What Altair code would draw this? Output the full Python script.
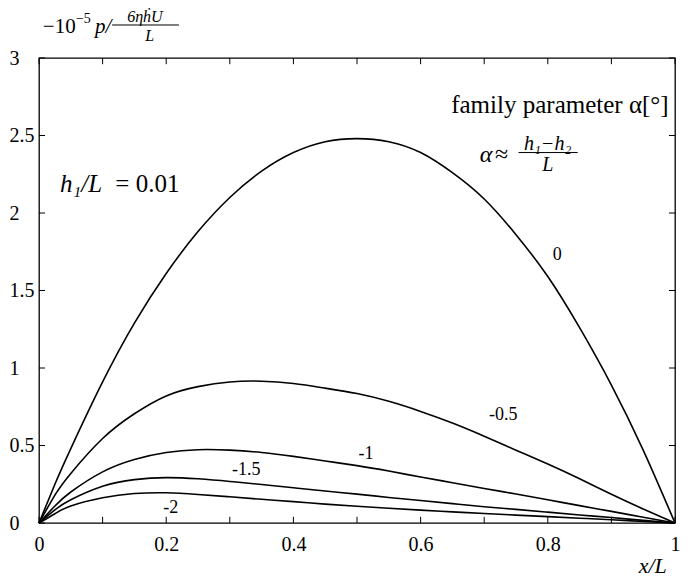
import altair as alt
import pandas as pd

# ---------------- data ----------------
x_grid = [0, 0.025, 0.05, 0.1, 0.15, 0.2, 0.25, 0.3, 0.35, 0.4, 0.45, 0.5,
          0.55, 0.6, 0.65, 0.7, 0.75, 0.8, 0.85, 0.9, 0.95, 1.0]
p_alpha_0 = [0, 0.25, 0.48, 0.91, 1.29, 1.61, 1.88, 2.10, 2.27, 2.39, 2.46, 2.48,
             2.46, 2.39, 2.26, 2.09, 1.86, 1.59, 1.26, 0.89, 0.47, 0]
p_alpha_m05 = [0, 0.18, 0.32, 0.545, 0.705, 0.82, 0.88, 0.91, 0.915, 0.90, 0.87, 0.835,
               0.785, 0.72, 0.645, 0.56, 0.47, 0.38, 0.285, 0.185, 0.09, 0]
p_alpha_m1 = [0, 0.11, 0.20, 0.33, 0.41, 0.455, 0.473, 0.47, 0.455, 0.43, 0.40, 0.37,
              0.335, 0.297, 0.26, 0.223, 0.187, 0.15, 0.112, 0.075, 0.037, 0]
p_alpha_m15 = [0, 0.085, 0.15, 0.237, 0.28, 0.293, 0.285, 0.268, 0.248, 0.227, 0.206, 0.186,
               0.165, 0.145, 0.125, 0.105, 0.088, 0.07, 0.052, 0.035, 0.017, 0]
p_alpha_m2 = [0, 0.06, 0.11, 0.163, 0.19, 0.195, 0.184, 0.169, 0.153, 0.138, 0.122, 0.108,
              0.095, 0.083, 0.072, 0.061, 0.051, 0.041, 0.031, 0.021, 0.01, 0]
alpha_names = ["0", "-0.5", "-1", "-1.5", "-2"]
x_tick_values = [0, 0.1, 0.2, 0.3, 0.4, 0.5, 0.6, 0.7, 0.8, 0.9, 1.0]
y_tick_values = [0, 0.5, 1, 1.5, 2, 2.5, 3]

series = [p_alpha_0, p_alpha_m05, p_alpha_m1, p_alpha_m15, p_alpha_m2]
rows = []
for name, vals in zip(alpha_names, series):
    for xv, pv in zip(x_grid, vals):
        rows.append({"x": xv, "p": pv, "alpha": name})
curves = pd.DataFrame(rows)

# ---------------- layout / styling ----------------
FONT = "Liberation Serif, DejaVu Serif, serif"
X_MIN, X_MAX, Y_MIN, Y_MAX = 0, 1, 0, 3
TICK_X_LEN = 0.0095   # inward tick length in x data units
TICK_Y_LEN = 0.04     # inward tick length in y data units

xs = alt.Scale(domain=[X_MIN, X_MAX], nice=False, zero=False)
ys = alt.Scale(domain=[Y_MIN, Y_MAX], nice=False, zero=False)

x_bottom = alt.Axis(orient="bottom", values=x_tick_values, ticks=False, domain=False, grid=False,
                    labelFont=FONT, labelFontSize=20, labelColor="black", labelPadding=11,
                    labelFlush=False, labelOverlap=False,
                    labelExpr="round(datum.value*10) % 2 == 0 ? format(datum.value, '~g') : ''")
y_left = alt.Axis(orient="left", values=y_tick_values, ticks=False, domain=False, grid=False,
                  labelFont=FONT, labelFontSize=20, labelColor="black", labelAlign="left",
                  labelPadding=30, labelFlush=False, labelOverlap=False,
                  labelExpr="format(datum.value, '~g')")

lines = alt.Chart(curves).mark_line(color="black", strokeWidth=1.6, interpolate="natural").encode(
    x=alt.X("x:Q", scale=xs, axis=x_bottom, title=None),
    y=alt.Y("p:Q", scale=ys, axis=y_left, title=None),
    detail="alpha:N",
)

# inward ticks on all four sides, placed by the scales
xt = pd.DataFrame(
    [{"x": v, "y": Y_MIN, "y2": Y_MIN + TICK_Y_LEN} for v in x_tick_values]
    + [{"x": v, "y": Y_MAX, "y2": Y_MAX - TICK_Y_LEN} for v in x_tick_values]
)
yt = pd.DataFrame(
    [{"y": v, "x": X_MIN, "x2": X_MIN + TICK_X_LEN} for v in y_tick_values]
    + [{"y": v, "x": X_MAX, "x2": X_MAX - TICK_X_LEN} for v in y_tick_values]
)
xticks = alt.Chart(xt).mark_rule(color="black", strokeWidth=1).encode(
    x=alt.X("x:Q", scale=xs, axis=None), y=alt.Y("y:Q", scale=ys, axis=None), y2="y2:Q")
yticks = alt.Chart(yt).mark_rule(color="black", strokeWidth=1).encode(
    x=alt.X("x:Q", scale=xs, axis=None), x2="x2:Q", y=alt.Y("y:Q", scale=ys, axis=None))


def text_layer(items, size, style="normal", align="left"):
    df = pd.DataFrame(items, columns=["t", "x", "y"])
    return alt.Chart(df).mark_text(font=FONT, fontSize=size, fontStyle=style, align=align,
                                   baseline="middle", color="black").encode(
        x=alt.X("x:Q", scale=xs, axis=None),
        y=alt.Y("y:Q", scale=ys, axis=None),
        text="t:N",
    )


label_pos = [(0.815, 1.73), (0.73, 0.697), (0.514, 0.445), (0.326, 0.342), (0.207, 0.097)]
curve_labels = text_layer([(n, px, py) for n, (px, py) in zip(alpha_names, label_pos)], 18, align="center")

ytitle_main = text_layer([("\u221210", 0.006, 3.2)], 21)
ytitle_sup = text_layer([("\u22125", 0.058, 3.252)], 14)
ytitle_p = text_layer([("p/", 0.088, 3.2)], 21, style="italic")
ytitle_frac = text_layer([("6\u03b7\u1e23U", 0.1665, 3.262), ("L", 0.174, 3.14)], 16,
                         style="italic", align="center")

family = text_layer([("family parameter \u03b1[\u00b0]", 0.99, 2.70)], 25, align="right")
alpha_sym = text_layer([("\u03b1", 0.693, 2.374)], 24, style="italic")
approx = text_layer([("\u2248", 0.717, 2.374)], 24)
alpha_frac = text_layer([("h\u2081\u2212h\u2082", 0.8, 2.445), ("L", 0.8, 2.31)], 20,
                        style="italic", align="center")

h1_left = text_layer([("h\u2081/L", 0.033, 2.19)], 25, style="italic")
h1_right = text_layer([("= 0.01", 0.12, 2.19)], 25)

xtitle = text_layer([("x/L", 0.965, -0.28)], 22, style="italic", align="center")

bars_df = pd.DataFrame({"x": [0.115, 0.754], "x2": [0.22, 0.847], "y": [3.213, 2.39]})
bars = alt.Chart(bars_df).mark_rule(color="black", strokeWidth=1).encode(
    x=alt.X("x:Q", scale=xs, axis=None),
    x2="x2:Q",
    y=alt.Y("y:Q", scale=ys, axis=None),
)

chart = alt.layer(
    lines, xticks, yticks, curve_labels, ytitle_main, ytitle_sup, ytitle_p, ytitle_frac,
    family, alpha_sym, approx, alpha_frac, h1_left, h1_right, xtitle, bars,
).resolve_axis(x="independent", y="independent").properties(
    width=636, height=465,
    padding={"left": 31, "top": 50, "right": 6, "bottom": 57},
    autosize=alt.AutoSizeParams(type="none"),
    background="white",
).configure_view(stroke="black", strokeWidth=1.3)

chart.save("out.html", embed_options={"renderer": "svg", "actions": False})
